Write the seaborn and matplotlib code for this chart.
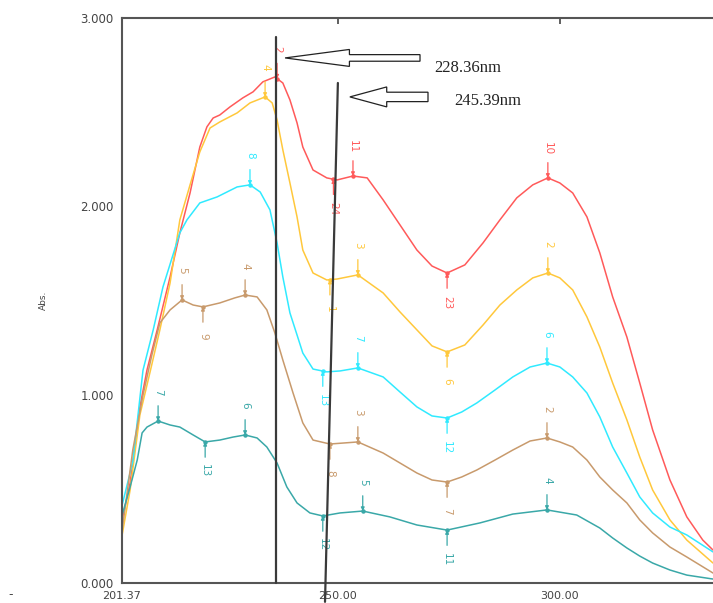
import numpy as np
import pandas as pd
import matplotlib
matplotlib.use("Agg")
import matplotlib.pyplot as plt
from matplotlib.patches import FancyArrow
import seaborn as sns

# spectra (wavelength nm, absorbance)
red_nm = [201.4, 203.2, 205.4, 207.0, 209.3, 212.2, 214.4, 216.7, 218.9, 220.5, 221.9, 223.4, 225.7, 228.6,
          230.9, 233.1, 235.8, 237.6, 239.2, 240.8, 242.1, 244.4, 247.5, 249.8, 253.4, 256.6, 260.2, 264.0,
          267.8, 271.2, 274.6, 278.6, 282.7, 286.5, 290.3, 293.9, 297.3, 300.0, 302.9, 306.1, 309.0, 311.9,
          315.1, 318.0, 320.9, 324.8, 328.6, 332.2, 334.5]
red_abs = [0.335, 0.531, 0.935, 1.131, 1.344, 1.625, 1.859, 2.071, 2.315, 2.422, 2.469, 2.485, 2.528, 2.576,
           2.608, 2.661, 2.687, 2.655, 2.565, 2.443, 2.315, 2.193, 2.151, 2.140, 2.161, 2.151, 2.034, 1.901,
           1.768, 1.683, 1.646, 1.689, 1.806, 1.928, 2.045, 2.114, 2.151, 2.124, 2.071, 1.944, 1.753, 1.519,
           1.306, 1.062, 0.813, 0.547, 0.351, 0.228, 0.175]

yellow_nm = [201.4, 203.2, 205.4, 207.7, 209.9, 212.2, 214.4, 216.7, 218.9, 221.2, 223.4, 227.3, 230.2, 233.6,
             235.2, 236.3, 237.6, 239.2, 240.8, 242.1, 244.4, 247.5, 249.8, 254.5, 260.2, 264.0, 267.8, 271.2,
             274.6, 278.6, 282.7, 286.5, 290.3, 293.9, 297.3, 300.0, 302.9, 306.1, 309.0, 311.9, 315.1, 318.0,
             320.9, 324.8, 328.6, 334.5]
yellow_abs = [0.255, 0.494, 0.892, 1.121, 1.344, 1.593, 1.928, 2.114, 2.289, 2.416, 2.448, 2.496, 2.549, 2.581,
              2.549, 2.459, 2.300, 2.124, 1.944, 1.768, 1.646, 1.609, 1.614, 1.636, 1.540, 1.439, 1.344, 1.259,
              1.227, 1.264, 1.370, 1.476, 1.556, 1.620, 1.646, 1.620, 1.556, 1.413, 1.253, 1.062, 0.866, 0.669,
              0.494, 0.335, 0.228, 0.106]

cyan_nm = [201.4, 203.8, 206.1, 208.4, 210.6, 214.4, 216.0, 218.9, 222.8, 227.3, 230.2, 232.5, 234.7, 236.3,
           237.6, 239.2, 240.8, 242.1, 244.4, 247.5, 250.5, 254.5, 260.2, 264.0, 267.8, 271.2, 274.6, 277.9,
           281.3, 285.4, 289.4, 293.3, 297.1, 300.0, 302.9, 306.1, 309.0, 311.9, 315.1, 318.0, 320.9, 324.8,
           328.6, 334.5]
cyan_abs = [0.414, 0.643, 1.130, 1.344, 1.572, 1.859, 1.928, 2.018, 2.050, 2.103, 2.114, 2.076, 1.981, 1.806,
            1.625, 1.434, 1.317, 1.221, 1.136, 1.121, 1.126, 1.142, 1.094, 1.014, 0.935, 0.887, 0.876, 0.908,
            0.956, 1.025, 1.094, 1.147, 1.168, 1.147, 1.094, 1.009, 0.882, 0.722, 0.584, 0.457, 0.372, 0.297,
            0.255, 0.165]

tan_nm = [201.4, 203.8, 206.1, 208.1, 209.9, 212.2, 214.9, 217.4, 219.6, 223.4, 226.8, 229.1, 231.8, 234.0,
          235.8, 237.6, 239.9, 242.1, 244.4, 248.2, 251.1, 254.5, 260.2, 264.0, 267.8, 271.2, 274.6, 277.9,
          281.3, 285.4, 289.4, 293.3, 297.1, 300.0, 302.9, 306.1, 309.0, 311.9, 315.1, 318.0, 320.9, 324.8,
          328.6, 334.5]
tan_abs = [0.281, 0.706, 0.998, 1.211, 1.381, 1.450, 1.503, 1.476, 1.466, 1.487, 1.514, 1.529, 1.519, 1.450,
           1.328, 1.184, 1.009, 0.850, 0.759, 0.738, 0.743, 0.749, 0.690, 0.637, 0.584, 0.547, 0.536, 0.563,
           0.600, 0.653, 0.706, 0.754, 0.770, 0.749, 0.722, 0.653, 0.563, 0.494, 0.425, 0.335, 0.266, 0.191,
           0.138, 0.053]

teal_nm = [201.4, 203.2, 204.8, 205.9, 207.0, 209.5, 212.2, 214.4, 217.4, 220.1, 223.4, 226.4, 229.1, 231.8,
           234.0, 236.3, 238.5, 240.8, 243.7, 246.6, 250.5, 255.6, 261.7, 267.8, 274.6, 282.0, 289.4, 297.1,
           303.8, 309.0, 311.9, 315.1, 318.0, 320.9, 324.8, 328.6, 334.5]
teal_abs = [0.361, 0.510, 0.653, 0.797, 0.828, 0.860, 0.839, 0.828, 0.786, 0.749, 0.759, 0.775, 0.786, 0.770,
            0.722, 0.637, 0.510, 0.425, 0.372, 0.356, 0.372, 0.382, 0.351, 0.308, 0.281, 0.319, 0.366, 0.388,
            0.361, 0.292, 0.239, 0.186, 0.143, 0.106, 0.069, 0.042, 0.021]

# peak / valley picks: (wavelength, label, +1 peak / -1 valley)
red_picks = [(236.3, "2", 1), (249.0, "24", -1), (253.4, "11", 1), (274.6, "23", -1), (297.3, "10", 1)]
yellow_picks = [(233.6, "4", 1), (248.2, "1", -1), (254.5, "3", 1), (274.6, "6", -1), (297.3, "2", 1)]
cyan_picks = [(230.2, "8", 1), (246.6, "13", -1), (254.5, "7", 1), (274.6, "12", -1), (297.1, "6", 1)]
tan_picks = [(214.9, "5", 1), (219.6, "9", -1), (229.1, "4", 1), (248.2, "8", -1), (254.5, "3", 1),
             (274.6, "7", -1), (297.1, "2", 1)]
teal_picks = [(209.5, "7", 1), (220.1, "13", -1), (229.1, "6", 1), (246.6, "12", -1), (255.6, "5", 1),
              (274.6, "11", -1), (297.1, "4", 1)]

series = [
    ("red", red_nm, red_abs, red_picks, "#ff5a5a"),
    ("yellow", yellow_nm, yellow_abs, yellow_picks, "#ffc83c"),
    ("cyan", cyan_nm, cyan_abs, cyan_picks, "#30eaff"),
    ("tan", tan_nm, tan_abs, tan_picks, "#c89a6c"),
    ("teal", teal_nm, teal_abs, teal_picks, "#3aa8a8"),
]

# marker lines and their labels
line_top = [(236.1, 2.90, 236.1, 0.0), (250.0, 2.655, 247.1, -0.10)]
line_labels = ["228.36nm", "245.39nm"]

x_ticks = [201.37, 250.00, 300.00]
x_ticklabels = ["201.37", "250.00", "300.00"]
y_ticks = [0, 1, 2, 3]
y_ticklabels = ["0.000", "1.000", "2.000", "3.000"]

sns.set_style("white")
plt.rcParams["font.family"] = ["DejaVu Sans"]

fig = plt.figure(figsize=(7.13, 6.03), dpi=100)
ax = fig.add_axes([122 / 713, 20 / 603, 591 / 713, 565 / 603])

frames = []
for name, nm, ab, picks, col in series:
    frames.append(pd.DataFrame({"nm": nm, "abs": ab, "sample": name}))
df = pd.concat(frames, ignore_index=True)
palette = {name: col for name, _, _, _, col in series}
sns.lineplot(data=df, x="nm", y="abs", hue="sample", palette=palette, lw=1.1, legend=False, ax=ax,
             estimator=None, sort=True)

for name, nm, ab, picks, col in series:
    for wl, lab, sgn in picks:
        yv = np.interp(wl, nm, ab)
        ax.annotate("", xy=(wl, yv), xytext=(0, sgn * 11), textcoords="offset points",
                    arrowprops=dict(arrowstyle="-|>", color=col, lw=0.9, mutation_scale=5,
                                    shrinkA=0, shrinkB=0))
        ax.plot([wl], [yv], marker="o", ms=2.2, color=col)
        ax.annotate(lab, xy=(wl, yv), xytext=(0, sgn * 21), textcoords="offset points",
                    rotation=270, ha="center", va="center", fontsize=7.5, color=col)

# vertical pick lines
for x0, y0, x1, y1 in line_top:
    ax.plot([x0, x1], [y0, y1], color="#3a3a3a", lw=1.6, clip_on=False, zorder=5)

# hollow arrows with labels
ax.add_patch(FancyArrow(268.5, 2.788, -30.4, 0, width=0.035, head_width=0.09, head_length=14.5,
                        length_includes_head=True, fc="white", ec="#222222", lw=0.9, zorder=6))
ax.add_patch(FancyArrow(270.3, 2.581, -17.6, 0, width=0.05, head_width=0.106, head_length=8.3,
                        length_includes_head=True, fc="white", ec="#222222", lw=0.9, zorder=6))
ax.text(271.8, 2.735, line_labels[0], fontsize=12, family="Liberation Serif", color="#222222", va="center")
ax.text(276.3, 2.56, line_labels[1], fontsize=12, family="Liberation Serif", color="#222222", va="center")

ax.set_xlim(201.37, 334.5)
ax.set_ylim(0, 3)
ax.set_xticks(x_ticks)
ax.set_xticklabels(x_ticklabels)
ax.set_yticks(y_ticks)
ax.set_yticklabels(y_ticklabels)
ax.tick_params(axis="x", direction="in", length=4, width=1.2, pad=5.5, labelsize=8, colors="#444444",
               top=True, labeltop=False)
ax.tick_params(axis="y", direction="out", length=4, width=1.2, pad=2, labelsize=8.5, colors="#444444")
ax.set_xlabel("")
ax.set_ylabel("Abs.", fontsize=6.5, color="#444444", labelpad=23)

for s in ["left", "bottom", "top"]:
    ax.spines[s].set_color("#555555")
    ax.spines[s].set_linewidth(1.5)
ax.spines["right"].set_visible(False)

fig.text(8 / 713, 1 - 595 / 603, "-", fontsize=9, color="#444444", va="center")

fig.savefig("out.png", dpi=100)
